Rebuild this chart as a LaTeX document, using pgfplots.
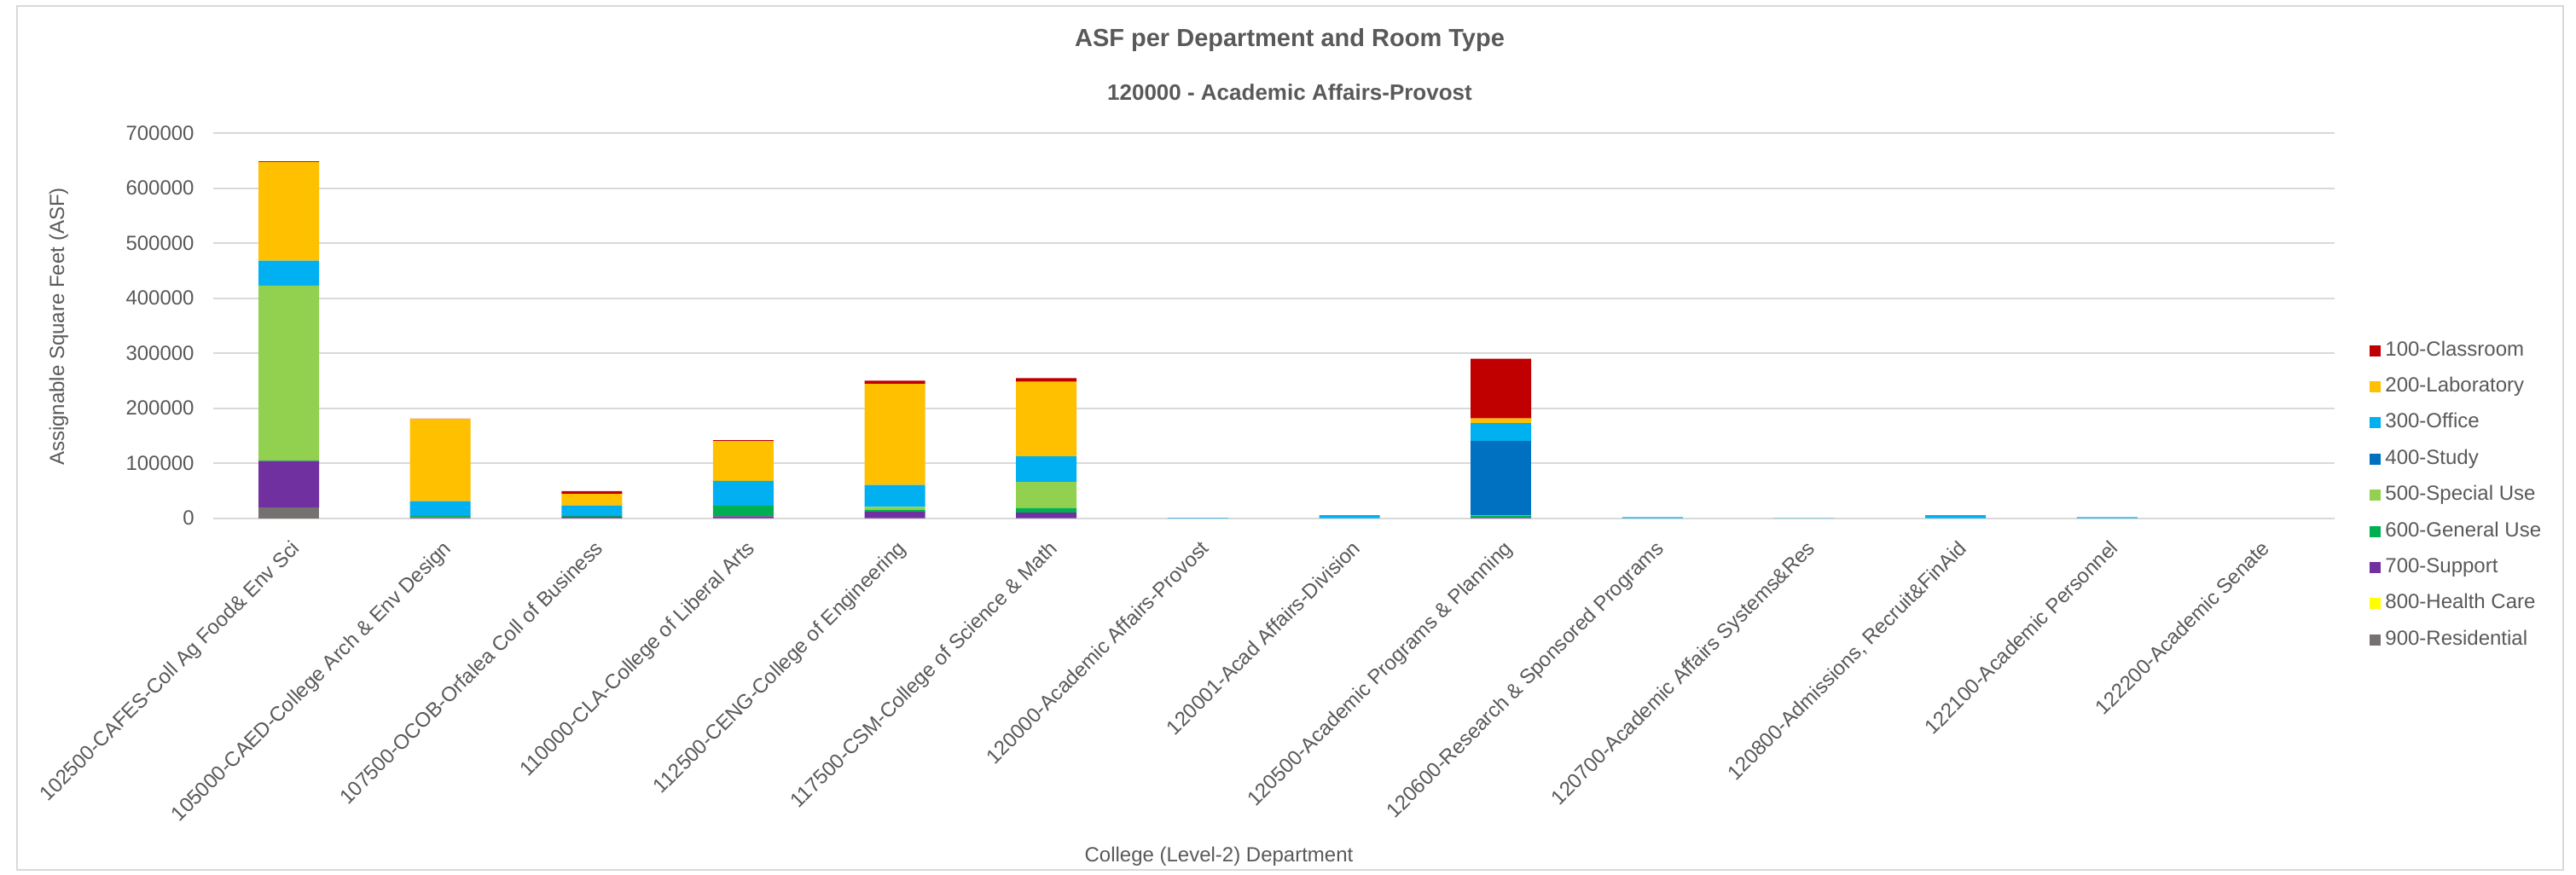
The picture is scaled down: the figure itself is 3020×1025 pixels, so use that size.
\documentclass[border=0pt]{standalone}
\usepackage{pgfplots}
\pgfplotsset{compat=1.18}
\usepackage{pgfplotstable}
\usepackage{fontspec}
\setmainfont{Liberation Sans}
\definecolor{c100}{HTML}{C00000}
\definecolor{c200}{HTML}{FFC000}
\definecolor{c300}{HTML}{00B0F0}
\definecolor{c400}{HTML}{0070C0}
\definecolor{c500}{HTML}{92D050}
\definecolor{c600}{HTML}{00B050}
\definecolor{c700}{HTML}{7030A0}
\definecolor{c800}{HTML}{FFFF00}
\definecolor{c900}{HTML}{767171}
\definecolor{txt}{HTML}{595959}
\definecolor{grd}{HTML}{D9D9D9}

\pgfplotstableread{
x  c100   c200   c300  c400   c500   c600  c700  c800 c900
0  1000   179300 45500 0      317700 1000  85000 0    19000
1  500    149400 26500 0      0      3000  1500  0    0
2  4700   21200  18750 0      0      2000  2500  0    0
3  2000   71800  45500 0      0      19000 3500  0    0
4  5700   183900 39700 0      5200   3600  11900 0    0
5  6700   135400 46500 0      47500  8300  10300 0    0
6  0      0      800   0      0      0     0     0    0
7  0      0      5500  0      0      0     0     0    0
8  108500 8300   32500 135500 0      4000  1000  0    0
9  0      0      2000  0      0      0     0     0    0
10 0      0      600   0      0      0     0     0    0
11 0      0      5500  0      0      0     0     0    0
12 0      0      2000  0      0      0     0     0    0
13 0      0      0     0      0      0     0     0    0
}\data

\begin{document}
\begin{tikzpicture}[x=0.5pt,y=0.5pt]
\useasboundingbox (0,0) rectangle (3020,1025);
\fill[white] (0,0) rectangle (3020,1025);
\draw[grd, line width=1pt] (20,5) rectangle (3005,1018);
\node[anchor=base, text=txt, font=\fontsize{14.5pt}{17pt}\selectfont\bfseries] at (1512,970) {ASF per Department and Room Type};
\node[anchor=base, text=txt, font=\fontsize{13pt}{15pt}\selectfont\bfseries] at (1512,907) {120000 - Academic Affairs-Provost};
\node[anchor=base, text=txt, font=\fontsize{12pt}{14pt}\selectfont] at (1429,15) {College (Level-2) Department};
\node[anchor=base, rotate=90, text=txt, font=\fontsize{12pt}{14pt}\selectfont] at (75,642) {Assignable Square Feet (ASF)};
\begin{axis}[
  at={(124.85pt,208.65pt)}, anchor=south west,
  scale only axis, width=1243.5pt, height=225.85pt,
  ybar stacked, bar width=35.5pt,
  xmin=-0.5, xmax=13.5, ymin=0, ymax=700000,
  xtick={0,...,13},
  xticklabels={102500-CAFES-Coll Ag Food\& Env Sci,105000-CAED-College Arch \& Env Design,107500-OCOB-Orfalea Coll of Business,110000-CLA-College of Liberal Arts,112500-CENG-College of Engineering,117500-CSM-College of Science \& Math,120000-Academic Affairs-Provost,120001-Acad Affairs-Division,120500-Academic Programs \& Planning,120600-Research \& Sponsored Programs,120700-Academic Affairs Systems\&Res,{120800-Admissions, Recruit\&FinAid},122100-Academic Personnel,122200-Academic Senate},
  ytick={0,100000,...,700000},
  scaled y ticks=false,
  /pgf/number format/assume math mode=true,
  yticklabel style={/pgf/number format/fixed,/pgf/number format/1000 sep={},anchor=east,inner sep=0pt,xshift=-10.85pt},
  xticklabel style={xshift=1pt,yshift=-12pt,rotate=45,anchor=north east,inner sep=0pt},
  tick label style={font=\fontsize{12pt}{14pt}\selectfont, text=txt},
  axis line style={draw=none}, tick style={draw=none},
  ymajorgrids, grid style={grd, line width=1pt},
  reverse legend,
  legend cell align=left,
  legend style={at={(1.0166,0.4611)}, anchor=north west, draw=none, fill=none, inner sep=0pt,
    font=\fontsize{12pt}{14pt}\selectfont, text=txt, row sep=10pt,
    nodes={inner sep=0pt, text height=8.6pt, text depth=2.6pt},
    /tikz/every odd column/.append style={column sep=2.5pt}},
  legend image code/.code={\fill[#1] (0pt,-3.25pt) rectangle (6.5pt,3.25pt);},
]
\addplot[fill=c900, draw=none] table[x=x, y=c900] {\data};
\addplot[fill=c800, draw=none] table[x=x, y=c800] {\data};
\addplot[fill=c700, draw=none] table[x=x, y=c700] {\data};
\addplot[fill=c600, draw=none] table[x=x, y=c600] {\data};
\addplot[fill=c500, draw=none] table[x=x, y=c500] {\data};
\addplot[fill=c400, draw=none] table[x=x, y=c400] {\data};
\addplot[fill=c300, draw=none] table[x=x, y=c300] {\data};
\addplot[fill=c200, draw=none] table[x=x, y=c200] {\data};
\addplot[fill=c100, draw=none] table[x=x, y=c100] {\data};
\legend{900-Residential,800-Health Care,700-Support,600-General Use,500-Special Use,400-Study,300-Office,200-Laboratory,100-Classroom}
\end{axis}
\end{tikzpicture}
\end{document}
